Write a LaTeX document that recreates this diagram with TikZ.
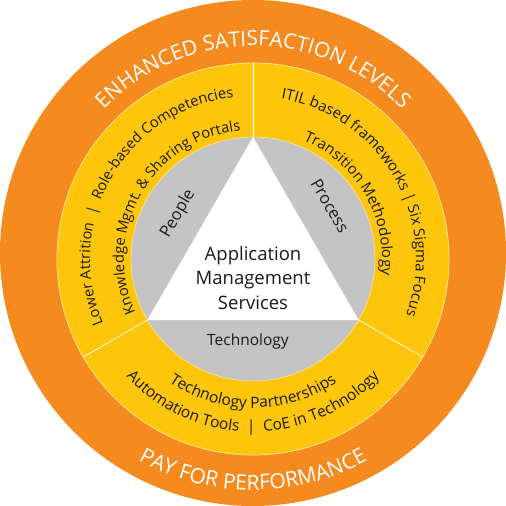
\documentclass[tikz,border=0pt]{standalone}
\usepackage{fontspec}
\setmainfont{Open Sans}
\usetikzlibrary{calc, decorations.text}
\definecolor{ringorange}{RGB}{245,139,31}
\definecolor{ringyellow}{RGB}{253,198,10}
\definecolor{coregray}{RGB}{196,196,196}
\definecolor{inktext}{RGB}{26,26,26}
\tikzset{
  bandtext/.style={decorate, decoration={text along path, text align=center, text format delimiters={[}{]}, text color=inktext}},
  ringtext/.style={decorate, decoration={text along path, text align=center, text format delimiters={[}{]}, text color=white}},
  divider/.style={draw=white, line width=0.7pt},
  corelabel/.style={text=inktext, font=\fontsize{16.5}{19}\selectfont, inner sep=0pt},
}

\begin{document}
\begin{tikzpicture}[x=1pt,y=1pt]
\useasboundingbox (-253,-253) rectangle (253,253);
\coordinate (o) at (0,0);
\coordinate (c) at (0,-6);

\fill[ringorange] (o) circle (253pt);
\draw[fill=ringyellow, draw=white!55!ringyellow, line width=0.8pt] (c) circle (196pt);
\draw[divider] ($(c)+(90:122)$) -- ($(c)+(90:196)$);
\draw[divider] ($(c)+(210:122)$) -- ($(c)+(210:196)$);
\draw[divider] ($(c)+(330:122)$) -- ($(c)+(330:196)$);
\draw[fill=coregray, draw=white!60!ringyellow, line width=0.5pt] (c) circle (122pt);
\fill[white] ($(c)+(90:122)$) -- ($(c)+(210:122)$) -- ($(c)+(330:122)$) -- cycle;

% texts in the orange ring
\path[ringtext, decoration={text={[\fontsize{21}{24}\selectfont]ENHANCED SATISFACTION LEVELS}}] ($(o)+(160:207)$) arc[start angle=160, end angle=20, radius=207pt];
\path[ringtext, decoration={text={[\fontsize{21}{24}\selectfont]PAY FOR PERFORMANCE}}] ($(o)+(220:237)$) arc[start angle=220, end angle=320, radius=237pt];

% texts in the yellow ring
\path[bandtext, decoration={text={[\fontsize{14.7}{18}\selectfont]Lower Attrition\ \ |\ \ Role-based Competencies}}] ($(c)+(210:163)$) arc[start angle=210, end angle=90, radius=163pt];
\path[bandtext, decoration={text={[\fontsize{14.7}{18}\selectfont]Knowledge Mgmt. {\&} Sharing Portals}}] ($(c)+(210:129)$) arc[start angle=210, end angle=90, radius=129pt];
\path[bandtext, decoration={text={[\fontsize{15}{18}\selectfont]ITIL based frameworks\ |\ Six Sigma Focus}}] ($(c)+(90:163)$) arc[start angle=90, end angle=-30, radius=163pt];
\path[bandtext, decoration={text={[\fontsize{15}{18}\selectfont]Transition Methodology}}] ($(c)+(90:129)$) arc[start angle=90, end angle=-30, radius=129pt];
\path[bandtext, decoration={text={[\fontsize{15.5}{18}\selectfont]Technology Partnerships}}] ($(c)+(210:149)$) arc[start angle=210, end angle=330, radius=149pt];
\path[bandtext, decoration={text={[\fontsize{15.5}{18}\selectfont]Automation Tools\ \ |\ \ CoE in Technology}}] ($(c)+(210:173)$) arc[start angle=210, end angle=330, radius=173pt];

% core
\node[text=inktext, align=center, font=\fontsize{18.5}{24.5}\selectfont] (ams) at ($(c)+(0,-19)$) {Application\\Management\\Services};
\node[corelabel, font=\fontsize{15.5}{18}\selectfont] (tech) at ($(c)+(-5,-82)$) {Technology};
\node[corelabel, rotate=60] (people) at ($(c)+(-75,45)$) {People};
\node[corelabel, rotate=-60] (process) at ($(c)+(77,53)$) {Process};
\end{tikzpicture}
\end{document}
